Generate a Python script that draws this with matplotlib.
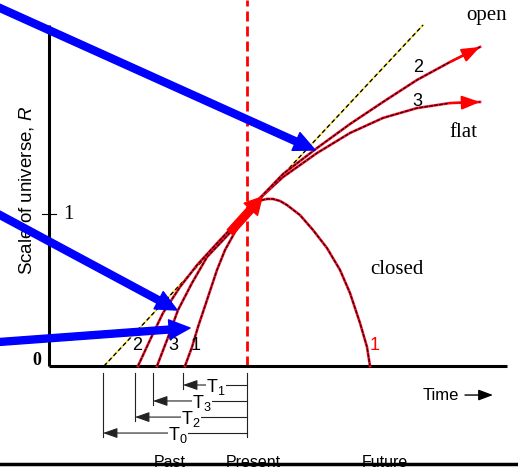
import matplotlib.pyplot as plt

plt.rcParams['mathtext.fontset'] = 'custom'
plt.rcParams['mathtext.rm'] = 'Liberation Sans'
plt.rcParams['mathtext.it'] = 'Liberation Sans:italic'

# time (present = 0) and scale factor R
closed_t = [-0.62, -0.55, -0.49, -0.40, -0.30, -0.22, -0.12, -0.02, 0.05, 0.10, 0.15, 0.20,
            0.26, 0.33, 0.40, 0.53, 0.66, 0.80, 0.93, 1.03, 1.13, 1.20, 1.23]
closed_r = [0.0, 0.125, 0.257, 0.434, 0.632, 0.763, 0.882, 0.980, 1.040, 1.075, 1.092, 1.099,
            1.099, 1.086, 1.059, 0.993, 0.895, 0.776, 0.632, 0.480, 0.283, 0.125, 0.0]

flat_t = [-0.90, -0.80, -0.69, -0.55, -0.40, -0.22, -0.05, 0.11,
          0.36, 0.70, 1.03, 1.36, 1.70, 2.03, 2.33]
flat_r = [0.0, 0.171, 0.368, 0.546, 0.717, 0.842, 0.961, 1.092,
          1.243, 1.401, 1.533, 1.632, 1.697, 1.730, 1.737]

open_t = [-1.09, -0.97, -0.84, -0.67, -0.50, -0.27, -0.07, 0.11,
          0.36, 0.70, 1.03, 1.36, 1.70, 2.03, 2.33]
open_r = [0.0, 0.171, 0.349, 0.520, 0.664, 0.829, 0.967, 1.092,
          1.263, 1.434, 1.592, 1.737, 1.882, 2.000, 2.099]

empty_t = [-1.43, 1.76]
empty_r = [0.0, 2.243]

# ages measured back from the present
age_names = ['T$_1$', 'T$_3$', 'T$_2$', 'T$_0$']
age_start = [-0.64, -0.94, -1.12, -1.44]

# pointer arrows: tail -> head
blue_tails = [(-2.52, 2.370), (-2.52, 1.011), (-2.52, 0.156)]
blue_heads = [(0.68, 1.421), (-0.70, 0.368), (-0.57, 0.250)]
now_tail = (-0.17, 0.88)
now_head = (0.15, 1.112)

fig = plt.figure(figsize=(5.18, 4.68), dpi=100)
ax = fig.add_axes([0, 0, 1, 1])
ax.set_xlim(-2.47, 2.71)
ax.set_ylim(-0.671, 2.408)
ax.axis('off')

# axes of the sketch
ax.plot([-1.98, -1.98], [0, 2.243], color='black', lw=2.2, solid_capstyle='butt', zorder=3)
ax.plot([-1.98, 2.60], [0, 0], color='black', lw=2.2, solid_capstyle='butt', zorder=3)
ax.plot([-2.05, -1.91], [1, 1], color='black', lw=0.8, zorder=3)
ax.text(-1.79, 1.0, '1', family='Liberation Serif', fontsize=15, ha='center', va='center')
ax.text(-2.10, 0.035, '0', family='Liberation Serif', fontsize=13, weight='bold', ha='center', va='center')
ax.text(-2.20, 1.158, 'Scale of universe, $R$', family='Liberation Sans', fontsize=13.5,
        rotation=90, ha='center', va='center')

# present
ax.plot([0, 0], [0, 2.408], color='red', lw=2, dashes=(3.6, 1.8), zorder=2)

# tangent line (empty universe)
ax.plot(empty_t, empty_r, color='#ffe000', lw=1.0, zorder=2)
ax.plot(empty_t, empty_r, color='black', lw=1.0, dashes=(3, 2), zorder=2)

# the three models
for t, r in [(closed_t, closed_r), (flat_t, flat_r), (open_t, open_r)]:
    ax.plot(t, r, color='#ff1030', lw=1.9, zorder=3, solid_joinstyle='round')
    ax.plot(t, r, color='#200000', lw=0.9, dashes=(3, 1), zorder=3)

for t, r in [(flat_t, flat_r), (open_t, open_r)]:
    ax.annotate('', xy=(t[-1], r[-1]), xytext=(t[-2], r[-2]),
                arrowprops=dict(arrowstyle='-|>,head_length=1.0,head_width=0.38',
                                mutation_scale=11, color='red', lw=1.5,
                                shrinkA=0, shrinkB=0), zorder=4)

ax.annotate('', xy=now_head, xytext=now_tail,
            arrowprops=dict(arrowstyle='simple,head_length=0.6,head_width=0.65,tail_width=0.27',
                            mutation_scale=20, color='red', shrinkA=0, shrinkB=0), zorder=5)

for tail, head in zip(blue_tails, blue_heads):
    ax.annotate('', xy=head, xytext=tail,
                arrowprops=dict(arrowstyle='simple,head_length=0.75,head_width=0.7,tail_width=0.25',
                                mutation_scale=20, color='blue', shrinkA=0, shrinkB=0), zorder=6)

# curve labels
sans = dict(family='Liberation Sans', fontsize=13, ha='center', va='center')
serif = dict(family='Liberation Serif', fontsize=15, ha='center', va='center')
ax.text(1.71, 1.967, '2', **sans)
ax.text(1.70, 1.743, '3', **sans)
ax.text(-1.10, 0.132, '2', **sans)
ax.text(-0.74, 0.132, '3', **sans)
ax.text(-0.51, 0.132, '1', **sans)
ax.text(1.28, 0.132, '1', color='red', **sans)
ax.text(2.40, 2.309, 'open', **serif)
ax.text(2.16, 1.533, 'flat', **serif)
ax.text(1.50, 0.632, 'closed', **serif)

# age brackets under the time axis
levels = [-0.125, -0.230, -0.336, -0.441]
label_x = [-0.31, -0.45, -0.56, -0.69]
ax.plot([0, 0], [-0.046, -0.467], color='#222222', lw=0.8)
for name, start, lev, lx in zip(age_names, age_start, levels, label_x):
    ax.plot([start, start], [-0.046, lev - 0.026], color='#222222', lw=0.8)
    ax.plot([lx, 0], [lev, lev], color='#222222', lw=0.8)
    ax.annotate('', xy=(start, lev), xytext=(lx, lev),
                arrowprops=dict(arrowstyle='-|>,head_length=0.8,head_width=0.28',
                                mutation_scale=11, color='#222222', lw=0.8,
                                shrinkA=0, shrinkB=0))
    ax.text(lx, lev - 0.045, name, family='Liberation Sans', fontsize=13,
            ha='center', va='baseline',
            bbox=dict(facecolor='white', edgecolor='none', pad=0.3))

ax.text(1.94, -0.191, 'Time', family='Liberation Sans', fontsize=12, ha='center', va='center')
ax.annotate('', xy=(2.46, -0.191), xytext=(2.18, -0.191),
            arrowprops=dict(arrowstyle='-|>,head_length=0.8,head_width=0.3',
                            mutation_scale=11, color='black', lw=1,
                            shrinkA=0, shrinkB=0))

for word, x in [('Past', -0.77), ('Present', 0.06), ('Future', 1.38)]:
    ax.text(x, -0.662, word, family='Liberation Sans', fontsize=11.5, ha='center', va='baseline')
ax.plot([-2.47, 2.71], [-0.645, -0.645], color='black', lw=2.5, zorder=7)

fig.savefig('out.png', dpi=100)
